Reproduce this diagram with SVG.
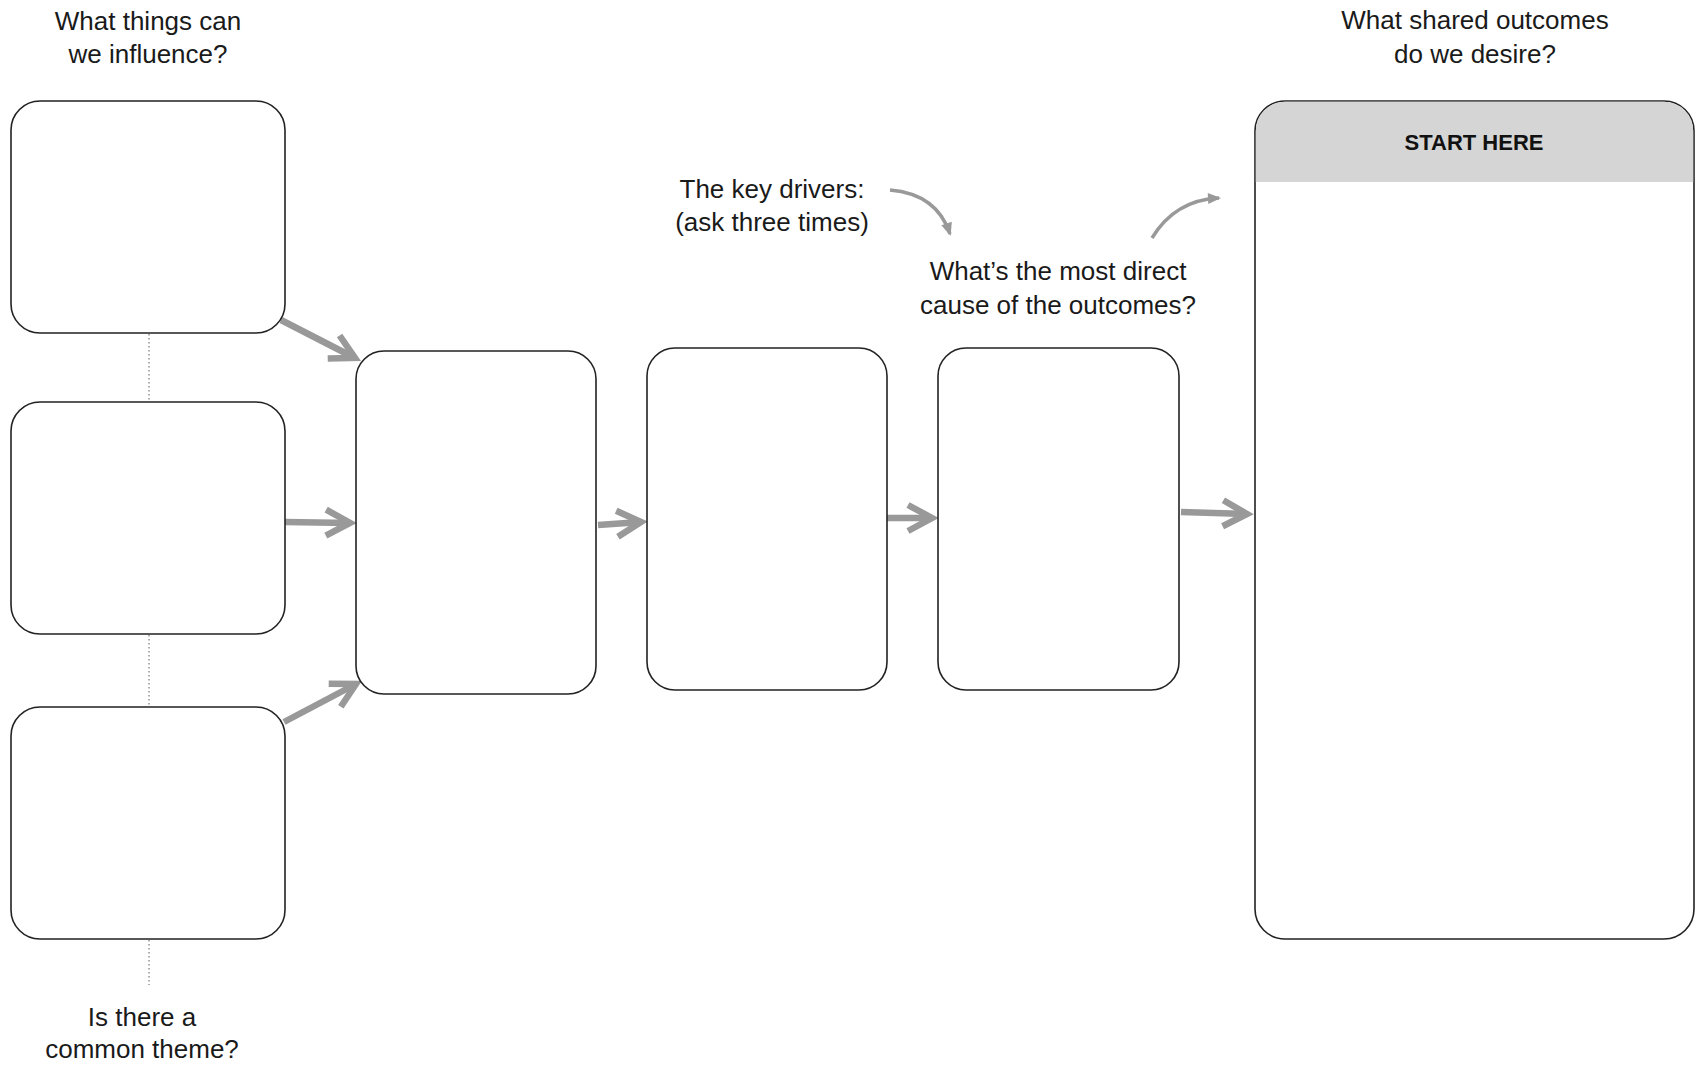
<svg xmlns="http://www.w3.org/2000/svg" width="1697" height="1067" viewBox="0 0 1697 1067">
  <style>
    .box { fill: #ffffff; stroke: #222222; stroke-width: 1.6; }
    .label { font-family: "Liberation Sans", Arial, sans-serif; font-size: 26px; fill: #1a1a1a; text-anchor: middle; }
    .head { font-family: "Liberation Sans", Arial, sans-serif; font-size: 22px; font-weight: bold; fill: #111111; text-anchor: middle; }
    .flow { stroke: #999999; stroke-width: 6.5; fill: none; marker-end: url(#chevron); }
    .curve { stroke: #999999; stroke-width: 3.5; fill: none; marker-end: url(#tri); }
    .dots { stroke: #777777; stroke-width: 1.2; stroke-dasharray: 1.5 2.5; fill: none; }
  </style>
  <defs>
    <marker id="chevron" viewBox="-30 -16 34 32" refX="0" refY="0" markerWidth="34" markerHeight="32" markerUnits="userSpaceOnUse" orient="auto" overflow="visible">
      <path d="M-24,-13 L0,0 L-24,13" fill="none" stroke="#999999" stroke-width="6.5"/>
    </marker>
    <marker id="tri" viewBox="-12 -6 14 12" refX="0" refY="0" markerWidth="14" markerHeight="12" markerUnits="userSpaceOnUse" orient="auto" overflow="visible">
      <path d="M-11,-5.5 L2,0 L-11,5.5 Z" fill="#999999"/>
    </marker>
  </defs>

  <rect width="1697" height="1067" fill="#ffffff"/>

  <!-- question labels -->
  <g id="labels">
    <text class="label" x="148" y="30">What things can</text>
    <text class="label" x="148" y="63">we influence?</text>
    <text class="label" x="142" y="1026">Is there a</text>
    <text class="label" x="142" y="1058">common theme?</text>
    <text class="label" x="772" y="198">The key drivers:</text>
    <text class="label" x="772" y="231">(ask three times)</text>
    <text class="label" x="1058" y="280">What’s the most direct</text>
    <text class="label" x="1058" y="314">cause of the outcomes?</text>
    <text class="label" x="1475" y="29">What shared outcomes</text>
    <text class="label" x="1475" y="63">do we desire?</text>
  </g>

  <!-- connectors -->
  <g id="connectors">
    <path class="dots" d="M149,334 V401"/>
    <path class="dots" d="M149,635 V707"/>
    <path class="dots" d="M149,940 V985"/>
    <path class="flow" d="M281,320 L355,358"/>
    <path class="flow" d="M285,522 L350,523"/>
    <path class="flow" d="M284,722 L356,684"/>
    <path class="flow" d="M598,525 L641,522"/>
    <path class="flow" d="M887,518 L932,518"/>
    <path class="flow" d="M1181,512 L1247,514"/>
    <path class="curve" d="M890,190 Q937,194 950,234"/>
    <path class="curve" d="M1152,238 Q1175,200 1219,198"/>
  </g>

  <!-- influence boxes -->
  <g id="influence-1"><rect class="box" x="11" y="101" width="274" height="232" rx="29"/></g>
  <g id="influence-2"><rect class="box" x="11" y="402" width="274" height="232" rx="29"/></g>
  <g id="influence-3"><rect class="box" x="11" y="707" width="274" height="232" rx="29"/></g>

  <!-- driver boxes -->
  <g id="driver-1"><rect class="box" x="356" y="351" width="240" height="343" rx="28"/></g>
  <g id="driver-2"><rect class="box" x="647" y="348" width="240" height="342" rx="28"/></g>
  <g id="driver-3"><rect class="box" x="938" y="348" width="241" height="342" rx="28"/></g>

  <!-- outcomes box -->
  <g id="outcomes">
    <rect class="box" x="1255" y="101" width="439" height="838" rx="30"/>
    <path d="M1255.8,182 V131 A29.2,29.2 0 0 1 1285,101.8 H1664 A29.2,29.2 0 0 1 1693.2,131 V182 Z" fill="#d5d5d5"/>
    <text class="head" x="1474" y="150">START HERE</text>
  </g>
</svg>
